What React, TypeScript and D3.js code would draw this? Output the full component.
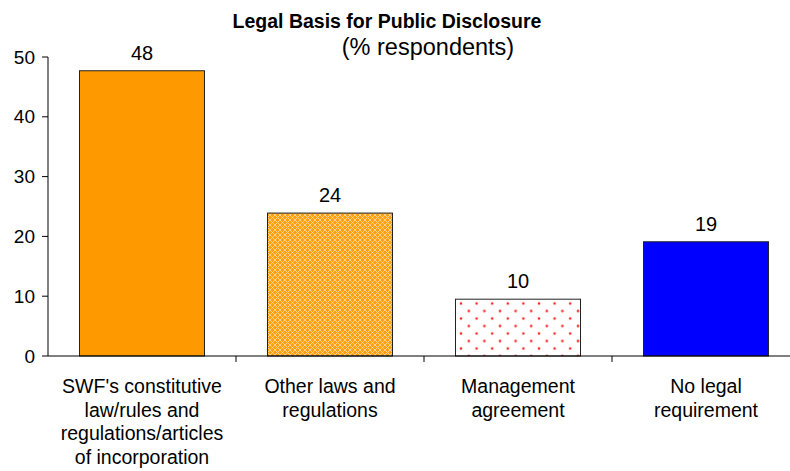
import React from "react";
import * as d3 from "d3";

const categories = [
  ["SWF's constitutive", "law/rules and", "regulations/articles", "of incorporation"],
  ["Other laws and", "regulations"],
  ["Management", "agreement"],
  ["No legal", "requirement"],
];
const categoryKeys = ["swf", "other", "mgmt", "none"];
const values = [47.7, 23.9, 9.5, 19.1];
const yTicks = [0, 10, 20, 30, 40, 50];
const title = "Legal Basis for Public Disclosure";
const subtitle = "(% respondents)";

const W = 790;
const H = 471;
const FONT = "'Liberation Sans', Arial, sans-serif";

export default function App() {
  const x = d3
    .scaleBand<string>()
    .domain(categoryKeys)
    .range([48, 800])
    .paddingInner(0.335)
    .paddingOuter(0.1675);
  const y = d3.scaleLinear().domain([0, 50]).range([356, 57]);
  const step = x.step();
  const fills = ["#FF9900", "url(#lattice)", "url(#dots)", "#0000FF"];
  const fmt = d3.format(".0f");

  return (
    <svg
      width={W}
      height={H}
      style={{ position: "absolute", left: 0, top: 0, background: "#fff" }}
      fontFamily={FONT}
    >
      <defs>
        <pattern id="lattice" width="5" height="5" patternUnits="userSpaceOnUse">
          <rect width="5" height="5" fill="#FF9F10" />
          <path d="M0,0 L5,5 M5,0 L0,5" stroke="#FFD898" strokeWidth="0.9" />
        </pattern>
        <pattern id="dots" width="15.6" height="15" patternUnits="userSpaceOnUse" x="461" y="303.5">
          <rect width="15.6" height="15" fill="#fff" />
          <circle cx="0" cy="0" r="1.3" fill="#FF2020" />
          <circle cx="15.6" cy="0" r="1.3" fill="#FF2020" />
          <circle cx="0" cy="15" r="1.3" fill="#FF2020" />
          <circle cx="15.6" cy="15" r="1.3" fill="#FF2020" />
          <circle cx="7.8" cy="7.5" r="1.3" fill="#FF2020" />
        </pattern>
      </defs>

      <text x={387} y={28} textAnchor="middle" fontSize={19.5} fontWeight="bold" fill="#000">
        {title}
      </text>
      <text x={428} y={55} textAnchor="middle" fontSize={23.5} fill="#000">
        {subtitle}
      </text>

      {values.map((v, i) => {
        const k = categoryKeys[i];
        const bx = x(k)!;
        return (
          <g key={k}>
            <rect
              x={bx}
              y={y(v)}
              width={x.bandwidth()}
              height={y(0) - y(v)}
              fill={fills[i]}
              stroke="#222"
              strokeWidth={1}
            />
            <text
              x={bx + x.bandwidth() / 2}
              y={y(v) - 11}
              textAnchor="middle"
              fontSize={20}
              fill="#000"
            >
              {fmt(v)}
            </text>
            <text textAnchor="middle" fontSize={19.5} fill="#000">
              {categories[i].map((line, j) => (
                <tspan key={j} x={bx + x.bandwidth() / 2} y={393 + j * 23.5}>
                  {line}
                </tspan>
              ))}
            </text>
          </g>
        );
      })}

      {/* axes */}
      <line x1={48} x2={48} y1={y(50)} y2={y(0)} stroke="#000" strokeWidth={1} />
      <line x1={48} x2={W} y1={y(0)} y2={y(0)} stroke="#000" strokeWidth={1} />
      {yTicks.map((t) => (
        <g key={t}>
          <line x1={42} x2={48} y1={y(t)} y2={y(t)} stroke="#000" />
          <text x={35} y={y(t)} dy="0.35em" textAnchor="end" fontSize={19} fill="#000">
            {t}
          </text>
        </g>
      ))}
      {categoryKeys.slice(1).map((k) => (
        <line
          key={k}
          x1={x(k)! - (step - x.bandwidth()) / 2}
          x2={x(k)! - (step - x.bandwidth()) / 2}
          y1={y(0)}
          y2={y(0) + 6}
          stroke="#000"
        />
      ))}
    </svg>
  );
}
